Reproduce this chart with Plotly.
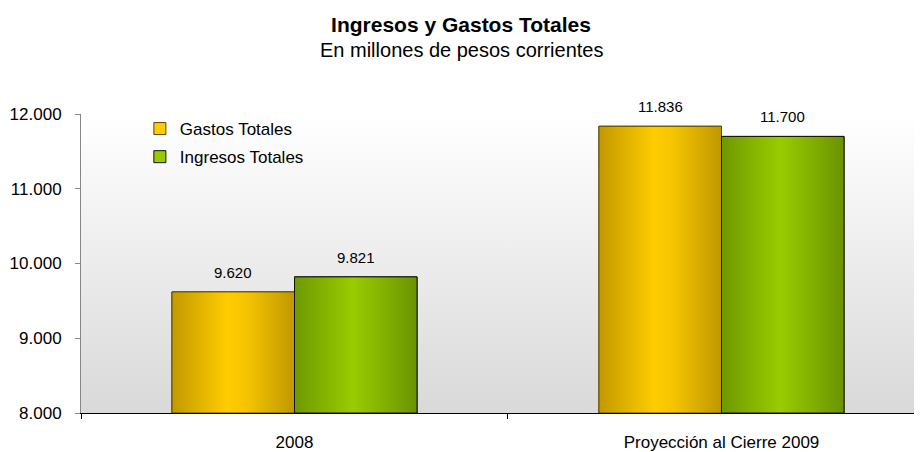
import base64
import plotly.graph_objects as go

# ---- data ----
categories = ["2008", "Proyección al Cierre 2009"]
gastos = [9620, 11836]
ingresos = [9821, 11700]
series_names = ["Gastos Totales", "Ingresos Totales"]
y_ticks = [8000, 9000, 10000, 11000, 12000]

# ---- styles ----
FONT = "Liberation Sans, Arial, sans-serif"
BAR_W = 0.287
gold_scale = [[0, "#C29900"], [0.45, "#FFCC00"], [0.6, "#F6C500"], [1, "#C09800"]]
green_scale = [[0, "#6E9900"], [0.48, "#99CC00"], [1, "#6A9300"]]
series = [
    (series_names[0], gastos, -BAR_W, "#FFCC00", "#5A4800", gold_scale),
    (series_names[1], ingresos, 0.0, "#99CC00", "#111500", green_scale),
]
Y0 = y_ticks[0]

# page body has an 8px margin: figure is sized/placed to compensate
W, H = 914, 444
ML, MT, MB = 73, 106, 34
PLOT_H = H - MT - MB

fig = go.Figure()
xs = list(range(len(categories)))

annotations = []
for name, vals, off, col, border, scale in series:
    fig.add_trace(go.Bar(
        x=xs, y=vals, name=name, width=BAR_W, offset=off,
        marker=dict(color=col, line=dict(color=border, width=1)),
        legendgroup=name, hoverinfo="skip",
    ))
    for xi, v in zip(xs, vals):
        annotations.append(dict(
            x=xi + off + BAR_W / 2, y=v, xref="x", yref="y",
            text=f"{v:,}".replace(",", "."), showarrow=False,
            xanchor="center", yanchor="bottom", yshift=9,
            font=dict(family=FONT, size=15, color="#000000")))

# gradient overlays on each bar (same positions as the bar traces)
for name, vals, off, col, border, scale in series:
    for xi, v in zip(xs, vals):
        x0 = xi + off
        x1 = x0 + BAR_W
        fig.add_trace(go.Scatter(
            x=[x0, x0, x1, x1, x0], y=[Y0, v, v, Y0, Y0],
            mode="lines", fill="toself",
            fillgradient=dict(type="horizontal", colorscale=scale),
            line=dict(color=border, width=1),
            showlegend=False, hoverinfo="skip",
        ))

svg = ('<svg xmlns="http://www.w3.org/2000/svg" width="10" height="100" viewBox="0 0 10 100" '
       'preserveAspectRatio="none"><defs><linearGradient id="g" x1="0" y1="0" x2="0" y2="1">'
       '<stop offset="0" stop-color="#ffffff"/><stop offset="1" stop-color="#d9d9d9"/>'
       '</linearGradient></defs><rect width="10" height="100" fill="url(#g)"/></svg>')
bg_uri = "data:image/svg+xml;base64," + base64.b64encode(svg.encode()).decode()

annotations.append(dict(
    text="En millones de pesos corrientes", xref="paper", yref="paper",
    x=(461 - 8 - ML) / (W - ML),
    y=1 + (MT - 41) / PLOT_H, xanchor="center", yanchor="middle",
    showarrow=False, font=dict(size=20, family=FONT, color="#000000")))

fig.update_layout(
    width=W, height=H,
    margin=dict(l=ML, r=0, t=MT, b=MB),
    paper_bgcolor="#ffffff", plot_bgcolor="rgba(0,0,0,0)",
    separators=",.",
    font=dict(family=FONT, size=17, color="#000000"),
    barmode="overlay",
    showlegend=True,
    legend=dict(x=0.07, y=1.01, xanchor="left", yanchor="top",
                bgcolor="rgba(0,0,0,0)", font=dict(size=17, family=FONT),
                traceorder="grouped", tracegroupgap=3, itemwidth=30),
    title=dict(text="<b>Ingresos y Gastos Totales</b>", x=(461 - 8) / W, xanchor="center",
               y=1 - 17 / H, yanchor="middle", yref="container", xref="container",
               font=dict(size=21, family=FONT, color="#000000")),
    annotations=annotations,
    images=[dict(source=bg_uri, xref="paper", yref="paper", x=0, y=1, sizex=1, sizey=1,
                 xanchor="left", yanchor="top", sizing="stretch", layer="below")],
)

fig.update_xaxes(
    range=[-0.5, 1.4696], tickmode="array", tickvals=xs, ticktext=categories,
    ticks="", showgrid=False, zeroline=False,
    showline=True, linecolor="#000000", linewidth=1,
    tickfont=dict(size=17, family=FONT, color="#000000"),
    ticklabelstandoff=14,
    minor=dict(tickmode="array", tickvals=[-0.5, 0.5, 1.5], ticks="outside",
               ticklen=5, tickcolor="#000000", tickwidth=1, showgrid=False),
)
fig.update_yaxes(
    range=[8000, 12000], tickmode="array", tickvals=y_ticks, tickformat=",d",
    ticks="outside", ticklen=5, tickcolor="#868686", tickwidth=1,
    showline=True, linecolor="#868686", linewidth=1,
    showgrid=False, zeroline=False,
    tickfont=dict(size=17, family=FONT, color="#000000"),
    ticklabelstandoff=10,
)

fig.write_html("out.html")
